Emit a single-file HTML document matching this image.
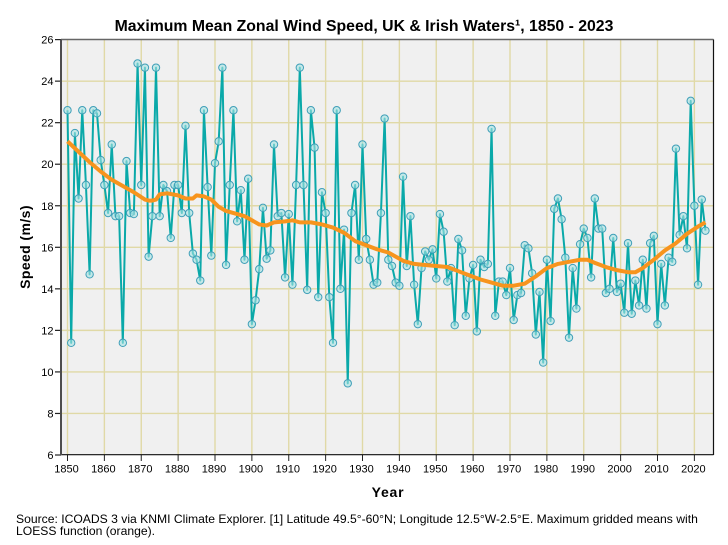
<!DOCTYPE html>
<html>
<head>
<meta charset="utf-8">
<title>Maximum Mean Zonal Wind Speed</title>
<style>
html,body{margin:0;padding:0;background:#fff;}
body{width:728px;height:545px;overflow:hidden;position:relative;font-family:"Liberation Sans",Arial,sans-serif;}
svg{position:absolute;left:0;top:0;display:block;}
text{font-family:"Liberation Sans",Arial,sans-serif;fill:#000;}
#source-note{position:absolute;left:16px;top:513px;width:700px;font-size:12.15px;line-height:12px;color:#000;}
</style>
</head>
<body>
<svg id="chart" width="728" height="545" viewBox="0 0 728 545" xmlns="http://www.w3.org/2000/svg"></svg>
<div id="source-note">Source: ICOADS 3 via KNMI Climate Explorer. [1] Latitude 49.5°-60°N; Longitude 12.5°W-2.5°E. Maximum gridded means with LOESS function (orange).</div>
<script>
const firstYear = 1850;
const windSpeed = [
22.6,11.4,21.5,18.35,22.6,19.0,14.7,22.6,22.45,20.2,
19.0,17.65,20.95,17.5,17.5,11.4,20.15,17.65,17.6,24.85,
19.0,24.65,15.55,17.5,24.65,17.5,19.0,18.7,16.45,19.0,
19.0,17.65,21.85,17.65,15.7,15.4,14.4,22.6,18.9,15.6,
20.05,21.1,24.65,15.15,19.0,22.6,17.25,18.75,15.4,19.3,
12.3,13.45,14.95,17.9,15.45,15.85,20.95,17.5,17.65,14.55,
17.6,14.2,19.0,24.65,19.0,13.95,22.6,20.8,13.6,18.65,
17.65,13.6,11.4,22.6,14.0,16.85,9.45,17.65,19.0,15.4,
20.95,16.4,15.4,14.2,14.3,17.65,22.2,15.4,15.1,14.3,
14.15,19.4,15.1,17.5,14.2,12.3,15.0,15.8,15.4,15.9,
14.5,17.6,16.75,14.35,15.0,12.25,16.4,15.85,12.7,14.5,
15.15,11.95,15.4,15.05,15.2,21.7,12.7,14.35,14.35,13.7,
15.0,12.5,13.7,13.8,16.1,15.95,14.75,11.8,13.85,10.45,
15.4,12.45,17.85,18.35,17.35,15.5,11.65,15.0,13.05,16.15,
16.9,16.45,14.55,18.35,16.9,16.9,13.8,14.0,16.45,13.85,
14.25,12.85,16.2,12.8,14.4,13.2,15.4,13.05,16.2,16.55,
12.3,15.2,13.2,15.5,15.3,20.75,16.6,17.5,15.95,23.05,
18.0,14.2,18.3,16.8
];
const loessYears = [1850,1853,1856,1859,1862,1865,1868,1871,1872,1873,1874,1875,1877,1880,1882,1884,1885,1887,1889,1891,1893,1896,1898,1900,1902,1904,1906,1909,1911,1913,1916,1919,1922,1925,1928,1931,1934,1937,1939,1941,1944,1947,1950,1953,1956,1959,1962,1965,1968,1971,1974,1977,1980,1983,1986,1989,1991,1993,1996,1999,2002,2004,2006,2009,2012,2015,2018,2021,2023];
const loessValues = [21.1,20.6,20.1,19.65,19.25,18.95,18.65,18.3,18.25,18.25,18.3,18.55,18.6,18.5,18.35,18.35,18.5,18.45,18.3,17.95,17.75,17.6,17.5,17.3,17.1,17.05,17.2,17.25,17.3,17.2,17.2,17.1,16.95,16.7,16.3,16.1,15.9,15.75,15.55,15.35,15.2,15.15,15.1,15.05,14.85,14.65,14.45,14.3,14.15,14.15,14.25,14.6,15.0,15.2,15.3,15.4,15.4,15.25,15.05,14.9,14.8,14.8,15.0,15.4,15.85,16.2,16.65,17.0,17.2];
const yTicks = [6,8,10,12,14,16,18,20,22,24,26];
const xTicks = [1850,1860,1870,1880,1890,1900,1910,1920,1930,1940,1950,1960,1970,1980,1990,2000,2010,2020];

const NS = 'http://www.w3.org/2000/svg';
const svg = document.getElementById('chart');
function sx(year){ return 67.5 + (year - 1850) * 3.6875; }
function sy(v){ return 455 - (v - 6) * 20.77; }
function mk(tag, attrs, parent){
  const el = document.createElementNS(NS, tag);
  for (const k in attrs) el.setAttribute(k, attrs[k]);
  (parent || svg).appendChild(el);
  return el;
}
const left = 61, right = 713.5, top_ = 39.5, bottom = 455;

const bg = mk('rect', {x:left, y:top_, width:right-left, height:bottom-top_, fill:'#f0f0f0'});



yTicks.forEach(function(t){
  const y = sy(t);
  if (t !== 6 && t !== 26) {
    const g = mk('line', {x1:left, x2:right, y1:y, y2:y, stroke:'#e0d9a6', 'stroke-width':1.4});
    
    
  }
  const m = mk('line', {x1:55, x2:left, y1:y, y2:y, stroke:'#222', 'stroke-width':1.2});
  
  
  const lab = mk('text', {x:53.5, y:y+4, 'text-anchor':'end', 'font-size':'11px'});
  lab.textContent = String(t);
  
  
});
xTicks.forEach(function(t){
  const x = sx(t);
  const g = mk('line', {x1:x, x2:x, y1:top_, y2:bottom, stroke:'#e0d9a6', 'stroke-width':1.4});
  
  
  const m = mk('line', {x1:x, x2:x, y1:bottom, y2:461, stroke:'#222', 'stroke-width':1});
  
  
  const lab = mk('text', {x:x-1, y:472.5, 'text-anchor':'middle', 'font-size':'11px'});
  lab.textContent = String(t);
  
  
});

const topEdge = mk('line', {x1:left, x2:right, y1:top_, y2:top_, stroke:'#666', 'stroke-width':1.6});


const rightEdge = mk('line', {x1:right, x2:right, y1:top_, y2:bottom, stroke:'#111', 'stroke-width':1.2});


const bottomEdge = mk('line', {x1:left, x2:right, y1:bottom-0.3, y2:bottom-0.3, stroke:'#111', 'stroke-width':1.2});


const leftEdge = mk('line', {x1:left, x2:left, y1:top_, y2:bottom, stroke:'#4d4d4d', 'stroke-width':2});



const pts = windSpeed.map(function(v,i){ return sx(firstYear+i).toFixed(2)+','+sy(v).toFixed(2); }).join(' ');
const line = mk('polyline', {points:pts, fill:'none', stroke:'#00a5a5', 'stroke-width':2, 'stroke-linejoin':'round', 'stroke-opacity':0.96});



windSpeed.forEach(function(v,i){
  const c = mk('circle', {cx:sx(firstYear+i), cy:sy(v), r:3.7, fill:'#a5e3e3', 'fill-opacity':0.6, stroke:'#3f9fb8', 'stroke-width':1});
  
  
});

const lp = loessYears.map(function(y,i){ return sx(y).toFixed(2)+','+sy(loessValues[i]).toFixed(2); }).join(' ');
const loess = mk('polyline', {points:lp, fill:'none', stroke:'#f7941d', 'stroke-width':4, 'stroke-linejoin':'round', 'stroke-linecap':'butt'});



const title = mk('text', {x:364, y:31, 'text-anchor':'middle', 'font-size':'15.8px', 'font-weight':'bold'});
title.textContent = 'Maximum Mean Zonal Wind Speed, UK & Irish Waters¹, 1850 - 2023';



const yTitle = mk('text', {x:0, y:0, 'text-anchor':'middle', 'font-size':'14px', 'font-weight':'bold', transform:'translate(30,247) rotate(-90)', 'letter-spacing':'0.4px'});
yTitle.textContent = 'Speed (m/s)';



const xTitle = mk('text', {x:388, y:497, 'text-anchor':'middle', 'font-size':'14px', 'font-weight':'bold', 'letter-spacing':'0.8px'});
xTitle.textContent = 'Year';


</script>
</body>
</html>
